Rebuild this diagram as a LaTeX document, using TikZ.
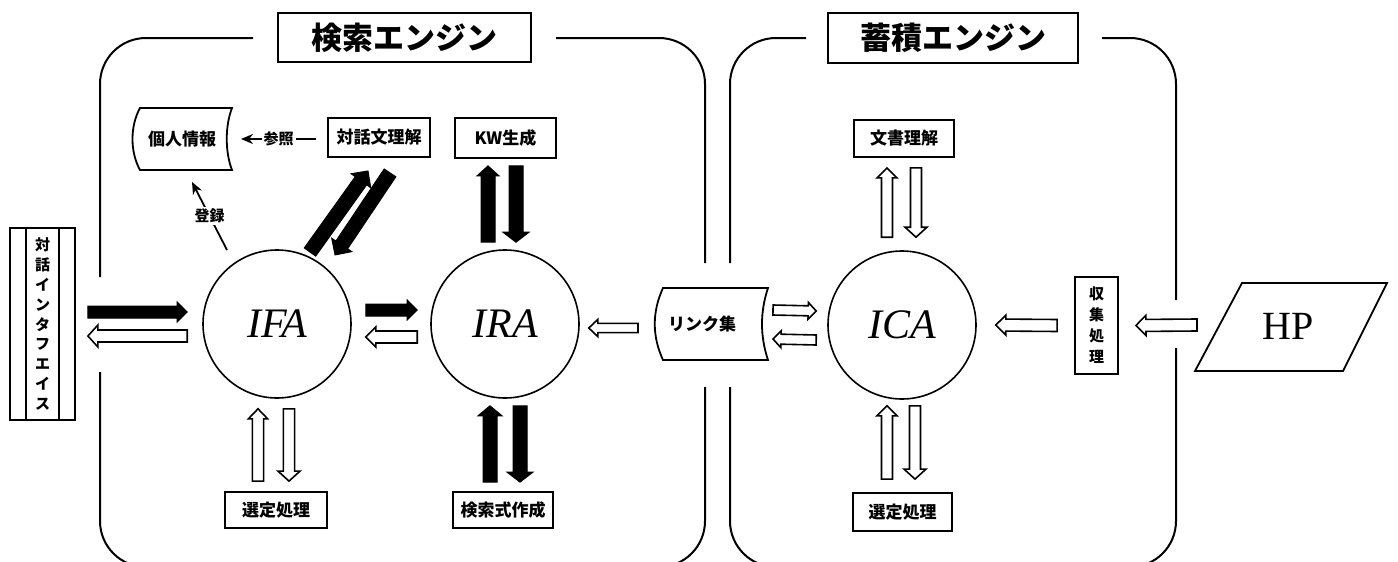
\documentclass[tikz,border=0pt]{standalone}
\usepackage{fontspec}
\setmainfont{Liberation Serif}
\newfontfamily\jp{Noto Sans CJK JP}
\usetikzlibrary{calc,arrows.meta}
\tikzset{
  frame/.style={line width=1pt, rounded corners=23pt},
  box/.style={draw, line width=0.9pt, inner sep=0pt, font=\jp\bfseries\fontsize{8.5}{10}\selectfont},
  titlebox/.style={draw, line width=0.9pt, inner sep=0pt, font=\jp\bfseries\fontsize{15.5}{16}\selectfont},
  agent/.style={circle, draw, line width=0.8pt, minimum size=74pt, inner sep=0pt, font=\fontsize{21}{21}\selectfont\itshape},
  blk/.style={fill=black, draw=black, line width=0.5pt, line join=miter},
  hol/.style={fill=white, draw=black, line width=0.8pt},
  lbl/.style={font=\jp\bfseries\fontsize{7.5}{9}\selectfont},
  txt/.style={font=\jp\bfseries\fontsize{8.5}{10}\selectfont},
  thinarrow/.style={line width=0.9pt, -{Stealth[length=6pt,width=5pt]}},
  shapeline/.style={line width=0.9pt}
}
% block arrow: #1 style, #2 from, #3 to, #4 shaft half width, #5 head half width, #6 head length
\newcommand{\barr}[6]{%
  \draw[#1] let \p1=(#2), \p2=(#3),
     \n1={atan2(\y2-\y1,\x2-\x1)}, \n2={veclen(\x2-\x1,\y2-\y1)} in
     [shift={(\p1)}, rotate=\n1]
     (0pt,#4) -- ({\n2-#6},#4) -- ({\n2-#6},#5) -- ({\n2+0pt},0pt)
     -- ({\n2-#6},-#5) -- ({\n2-#6},-#4) -- (0pt,-#4) -- cycle;}
\begin{document}
\begin{tikzpicture}[x=0.5pt,y=-0.5pt]
\useasboundingbox (0,0) rectangle (1398,562);
\clip (0,0) rectangle (1398,562);
\fill[white] (0,0) rectangle (1398,562);

% ---- frames ----
\draw[frame] (100,277) |- (253,38);
\draw[frame] (556,38) -| (705,263);
\draw[frame] (705,387) |- (400,567) -| (100,372);
\draw[frame] (730,263) |- (806,38);
\draw[frame] (1102,38) -| (1176,300);
\draw[frame] (1176,348) |- (950,567) -| (730,387);

% ---- titles ----
\node[titlebox, minimum width=126.5pt, minimum height=24.5pt] (title1) at (404.5,37.5) {検索エンジン};
\node[titlebox, minimum width=125pt, minimum height=25pt] (title2) at (953,38) {蓄積エンジン};

% ---- agents ----
\node[agent] (IFA) at (277,324) {IFA};
\node[agent] (IRA) at (505,324) {IRA};
\node[agent] (ICA) at (902,325) {ICA};

% ---- boxes ----
\node[box, minimum width=51pt, minimum height=19.5pt] (taiwa) at (379,137.5) {対話文理解};
\node[box, minimum width=50.5pt, minimum height=20pt] (kw) at (505.5,138) {KW生成};
\node[box, minimum width=51pt, minimum height=18pt] (sentei1) at (276,510) {選定処理};
\node[box, minimum width=50pt, minimum height=18pt] (kensaku) at (503,510) {検索式作成};
\node[box, minimum width=50pt, minimum height=18.5pt] (bunsho) at (904,138.5) {文書理解};
\node[box, minimum width=49.5pt, minimum height=19pt] (sentei2) at (902.5,512) {選定処理};
\node[box, minimum width=21.5pt, minimum height=48.5pt, align=center,
      font=\jp\bfseries\fontsize{7.5}{10.5}\selectfont] (shushu) at (1096.5,325.5) {収\\集\\処\\理};

% dialogue interface
\node[draw, line width=0.9pt, minimum width=32.5pt, minimum height=96pt, inner sep=0pt] (tif) at (42.5,324) {};
\draw[line width=0.9pt] ($(tif.north)+(-16.5,0)$) -- ($(tif.south)+(-16.5,0)$);
\draw[line width=0.9pt] ($(tif.north)+(16.5,0)$) -- ($(tif.south)+(16.5,0)$);
\node[align=center, font=\jp\bfseries\fontsize{7.5}{9.9}\selectfont] (tiftext) at (tif) {対\\話\\イ\\ン\\タ\\フ\\エ\\イ\\ス};

% personal info (stored data shape)
\draw[shapeline] (140,108) -- (232,108) .. controls (225,126) and (225,152) .. (232,170)
   -- (140,170) .. controls (130,152) and (130,126) .. (140,108) -- cycle;
\node[txt] (kojin) at (182,139) {個人情報};

% link collection
\draw[shapeline] (663,288) -- (768,288) .. controls (760,312) and (760,336) .. (768,360)
   -- (663,360) .. controls (652,336) and (652,312) .. (663,288) -- cycle;
\node[txt] (link) at (702,324) {リンク集};
\coordinate (linkW) at (655,324);
\coordinate (linkE) at (768,324);

% HP
\draw[shapeline] (1242,283) -- (1387,283) -- (1343,371) -- (1195,371) -- cycle;
\node[font=\fontsize{20}{20}\selectfont] (HP) at (1288,326) {HP};
\coordinate (hpW) at (1219,325);

% ---- thin arrows ----
\coordinate (refS) at ($(taiwa.west)+(-11,1.5)$);
\coordinate (refE) at (241,139);
\draw[thinarrow] (refS) -- (refE) node[midway, fill=white, lbl, inner sep=1pt] (sansho) {参照};
\coordinate (regS) at (227,250);
\coordinate (regE) at (192,182);
\draw[thinarrow] (regS) -- (regE) node[midway, fill=white, lbl, inner sep=1pt] (toroku) {登録};

% ---- block arrows ----
% interface <-> IFA
\barr{blk}{$(tif.east)+(12,-12)$}{$(IFA.west)+(-15,-12)$}{3pt}{5pt}{5pt}
\barr{hol}{$(IFA.west)+(-15,12)$}{$(tif.east)+(12,12)$}{3pt}{5.5pt}{5pt}
% IFA <-> IRA
\barr{blk}{$(IFA.east)+(14,-14)$}{$(IRA.west)+(-13,-14)$}{3pt}{5pt}{5pt}
\barr{hol}{$(IRA.west)+(-13,13)$}{$(IFA.east)+(14,13)$}{3pt}{5pt}{5pt}
% link -> IRA
\barr{hol}{$(linkW)+(-17,4)$}{$(IRA.east)+(9,4)$}{2.3pt}{4.3pt}{4.5pt}
% link <-> ICA
\barr{hol}{$(linkE)+(5,-14)$}{$(ICA.west)+(-11,-14)$}{2.5pt}{4.2pt}{4pt}
\barr{hol}{$(ICA.west)+(-11,15)$}{$(linkE)+(5,15)$}{2.5pt}{4.2pt}{4pt}
% shushu -> ICA, HP -> shushu
\barr{hol}{$(shushu.west)+(-17,0)$}{$(ICA.east)+(19,0)$}{3pt}{5pt}{5pt}
\barr{hol}{$(hpW)+(-22,0)$}{$(shushu.east)+(17,0)$}{3pt}{5pt}{5pt}
% IFA <-> sentei1
\barr{hol}{$(sentei1.north)+(-18,-10)$}{$(IFA.south)+(-19,10)$}{2.8pt}{4.8pt}{5pt}
\barr{hol}{$(IFA.south)+(12,10)$}{$(sentei1.north)+(13,-10)$}{2.8pt}{5.5pt}{5pt}
% IRA <-> KW
\barr{blk}{$(IRA.north)+(-17,-7)$}{$(kw.south)+(-17.5,7)$}{3.5pt}{5.5pt}{5pt}
\barr{blk}{$(kw.south)+(10.5,7)$}{$(IRA.north)+(11,-7)$}{3.5pt}{6.5pt}{5pt}
% IRA <-> kensaku
\barr{blk}{$(kensaku.north)+(-13,-9)$}{$(IRA.south)+(-15,7)$}{3.5pt}{6pt}{5pt}
\barr{blk}{$(IRA.south)+(15,7)$}{$(kensaku.north)+(17,-9)$}{3.5pt}{6.5pt}{5pt}
% IFA <-> taiwa (diagonal)
\barr{blk}{$(IFA.center)+(33,-72)$}{$(taiwa.south)+(-11,13)$}{3.5pt}{6pt}{6pt}
\barr{blk}{$(taiwa.south)+(11,15)$}{$(IFA.center)+(58,-69)$}{3.5pt}{6pt}{6pt}
% ICA <-> bunsho
\barr{hol}{$(ICA.north)+(-15,-13)$}{$(bunsho.south)+(-17,10)$}{2.75pt}{5pt}{5pt}
\barr{hol}{$(bunsho.south)+(12,10)$}{$(ICA.north)+(14,-13)$}{2.75pt}{5.5pt}{5pt}
% ICA <-> sentei2
\barr{hol}{$(sentei2.north)+(-15.5,-13)$}{$(ICA.south)+(-15,6)$}{2.75pt}{5pt}{5pt}
\barr{hol}{$(ICA.south)+(13,6)$}{$(sentei2.north)+(12.5,-13)$}{2.75pt}{5.5pt}{5pt}
\end{tikzpicture}
\end{document}
